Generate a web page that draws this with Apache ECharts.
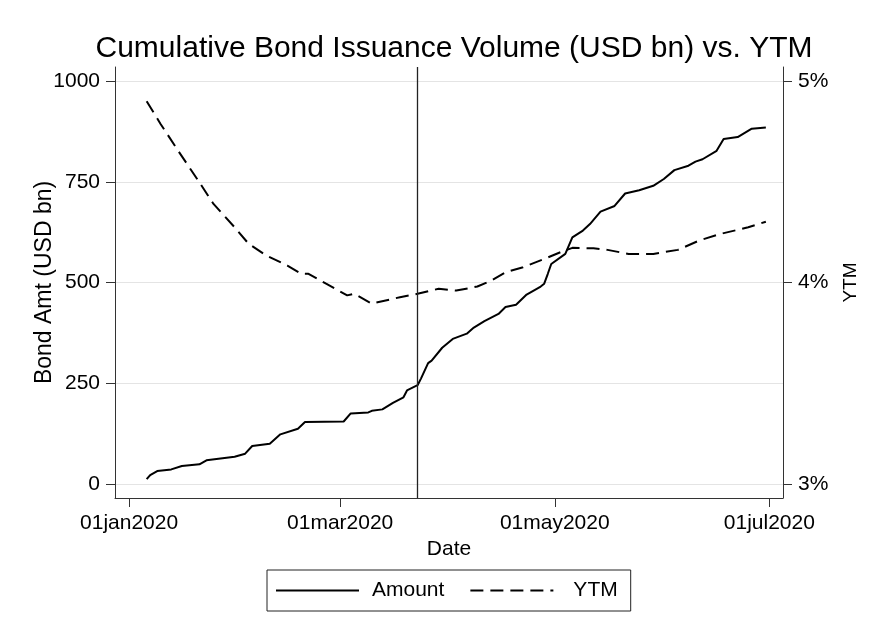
<!DOCTYPE html>
<html>
<head>
<meta charset="utf-8">
<script src="https://cdn.jsdelivr.net/npm/echarts@6/dist/echarts.min.js"></script>
<style>
html,body{margin:0;padding:0;background:#fff;}
#chart{width:869px;height:635px;}
</style>
</head>
<body>
<div id="chart"></div>
<script>
// ---- data ----
var amountDates = ['2020-01-06','2020-01-07','2020-01-09','2020-01-13','2020-01-16','2020-01-21','2020-01-23','2020-01-31',
  '2020-02-03','2020-02-05','2020-02-10','2020-02-13','2020-02-18','2020-02-20','2020-03-02','2020-03-04','2020-03-09',
  '2020-03-10','2020-03-13','2020-03-16','2020-03-19','2020-03-20','2020-03-23','2020-03-24','2020-03-26','2020-03-27',
  '2020-03-30','2020-04-02','2020-04-06','2020-04-08','2020-04-11','2020-04-15','2020-04-17','2020-04-20','2020-04-23',
  '2020-04-27','2020-04-28','2020-04-29','2020-04-30','2020-05-04','2020-05-06','2020-05-09','2020-05-11','2020-05-14',
  '2020-05-18','2020-05-21','2020-05-25','2020-05-29','2020-06-01','2020-06-04','2020-06-08','2020-06-10','2020-06-12',
  '2020-06-16','2020-06-18','2020-06-22','2020-06-26','2020-06-30'];
var amountValues = [11.6,22,32,36,44.5,48.6,58.6,67.6,
  75,94,99.8,123,137,153.5,155,175,177.5,
  181.5,185,201,215,232,245,262,300,306,
  338,360,373,388,404,422,439,445,470,
  490,497,521,546,571,612,629,645,676,
  690,721,729,740,757,779,790,800,806,
  827,856,861,882,885];

var ytmDates = ['2020-01-06','2020-01-10','2020-01-15','2020-01-21','2020-01-25','2020-01-31','2020-02-04','2020-02-09',
  '2020-02-15','2020-02-19','2020-02-21','2020-02-26','2020-03-03','2020-03-05','2020-03-10','2020-03-18','2020-03-23',
  '2020-03-29','2020-04-03','2020-04-09','2020-04-13','2020-04-17','2020-04-22','2020-04-28','2020-05-03','2020-05-06',
  '2020-05-12','2020-05-16','2020-05-22','2020-05-29','2020-06-05','2020-06-11','2020-06-17','2020-06-25','2020-06-30'];
var ytmValues = [4.90,4.786,4.653,4.497,4.39,4.274,4.192,4.134,
  4.084,4.043,4.043,3.994,3.936,3.944,3.895,3.927,3.944,
  3.969,3.960,3.980,4.010,4.051,4.076,4.117,4.153,4.172,
  4.170,4.162,4.142,4.142,4.162,4.208,4.241,4.274,4.302];

var eventDate = '2020-03-23';
var xTickDates = ['2020-01-01','2020-03-01','2020-05-01','2020-07-01'];
var xTickLabels = ['01jan2020','01mar2020','01may2020','01jul2020'];
var leftTicks = [0,250,500,750,1000];
var leftTickLabels = ['0','250','500','750','1000'];
var rightTicks = [3,4,5];
var rightTickLabels = ['3%','4%','5%'];

// ---- build ----
var DAY = 86400000;
function ts(d){ var p = d.split('-'); return Date.UTC(+p[0], +p[1]-1, +p[2]); }
var amountData = amountDates.map(function(d,i){ return [ts(d), amountValues[i]]; });
var ytmData = ytmDates.map(function(d,i){ return [ts(d), ytmValues[i]]; });
var xTickTs = xTickDates.map(ts);
function pick(ticks, labels, v, tol){
  for (var i = 0; i < ticks.length; i++) { if (Math.abs(ticks[i] - v) < tol) return labels[i]; }
  return '';
}

var FONT = 'Liberation Sans, Arial, Helvetica, sans-serif';
var AX = '#333';

var chart = echarts.init(document.getElementById('chart'), null, {renderer:'canvas'});
chart.setOption({
  animation: false,
  backgroundColor: '#fff',
  textStyle: {fontFamily: FONT},
  title: {
    text: 'Cumulative Bond Issuance Volume (USD bn) vs. YTM',
    left: 449, textAlign: 'center', top: 29,
    textStyle: {fontSize: 30, fontWeight: 'normal', color: '#000', fontFamily: FONT}
  },
  grid: {left: 115, right: 86, top: 67, bottom: 137, containLabel: false},
  legend: {
    data: [
      {name: 'Amount', textStyle: {padding: [0,0,0,8]}},
      {name: 'YTM', textStyle: {padding: [0,0,0,15]}}
    ],
    left: 267, top: 570,
    borderColor: '#222', borderWidth: 1,
    padding: [10, 13, 10, 8],
    itemWidth: 83, itemHeight: 20, itemGap: 25,
    selectedMode: false,
    itemStyle: {opacity: 0},
    textStyle: {fontSize: 21, color: '#000', fontFamily: FONT}
  },
  xAxis: {
    type: 'value',
    min: ts('2019-12-28'),
    max: ts('2020-07-04') + 21*3600*1000,
    name: 'Date', nameLocation: 'middle', nameGap: 38,
    nameTextStyle: {fontSize: 21, color: '#000', fontFamily: FONT},
    axisLine: {show: true, onZero: false, lineStyle: {color: AX, width: 1}},
    axisTick: {show: true, length: 9, inside: false, customValues: xTickTs, lineStyle: {color: AX}},
    axisLabel: {show: true, margin: 15, fontSize: 21, color: '#000', fontFamily: FONT,
      customValues: xTickTs, showMinLabel: true, showMaxLabel: true,
      formatter: function(v){ return pick(xTickTs, xTickLabels, v, DAY/2); }},
    splitLine: {show: false}
  },
  yAxis: [{
    type: 'value', position: 'left',
    min: -35, max: 1035,
    name: 'Bond Amt (USD bn)', nameLocation: 'middle', nameGap: 59, nameRotate: 90,
    nameMoveOverlap: false,
    nameTextStyle: {fontSize: 23, color: '#000', fontFamily: FONT},
    axisLine: {show: true, onZero: false, lineStyle: {color: AX, width: 1}},
    axisTick: {show: true, length: 9, customValues: leftTicks, lineStyle: {color: AX}},
    axisLabel: {show: true, margin: 15, fontSize: 21, color: '#000', fontFamily: FONT, customValues: leftTicks,
      formatter: function(v){ return pick(leftTicks, leftTickLabels, v, 1); }},
    splitLine: {show: true, lineStyle: {color: '#e4e4e4', width: 1.2}}
  },{
    type: 'value', position: 'right',
    min: 2.93, max: 5.07,
    name: 'YTM', nameLocation: 'middle', nameGap: 58, nameRotate: 90,
    nameTextStyle: {fontSize: 19, color: '#000', fontFamily: FONT},
    axisLine: {show: true, onZero: false, lineStyle: {color: AX, width: 1}},
    axisTick: {show: true, length: 9, customValues: rightTicks, lineStyle: {color: AX}},
    axisLabel: {show: true, margin: 15, fontSize: 21, color: '#000', fontFamily: FONT, customValues: rightTicks,
      formatter: function(v){ return pick(rightTicks, rightTickLabels, v, 0.01); }},
    splitLine: {show: false}
  }],
  series: [{
    name: 'Amount', type: 'line', yAxisIndex: 0,
    data: amountData, symbol: 'none', showSymbol: false,
    lineStyle: {color: '#000', width: 2, type: 'solid'},
    itemStyle: {color: '#000'},
    markLine: {
      silent: true, symbol: ['none','none'], label: {show: false},
      lineStyle: {color: '#222', width: 1.3, type: 'solid'},
      data: [{xAxis: ts(eventDate)}]
    }
  },{
    name: 'YTM', type: 'line', yAxisIndex: 1,
    data: ytmData, symbol: 'none', showSymbol: false,
    lineStyle: {color: '#000', width: 2, type: [13, 7]},
    itemStyle: {color: '#000'}
  }]
});
</script>
</body>
</html>
